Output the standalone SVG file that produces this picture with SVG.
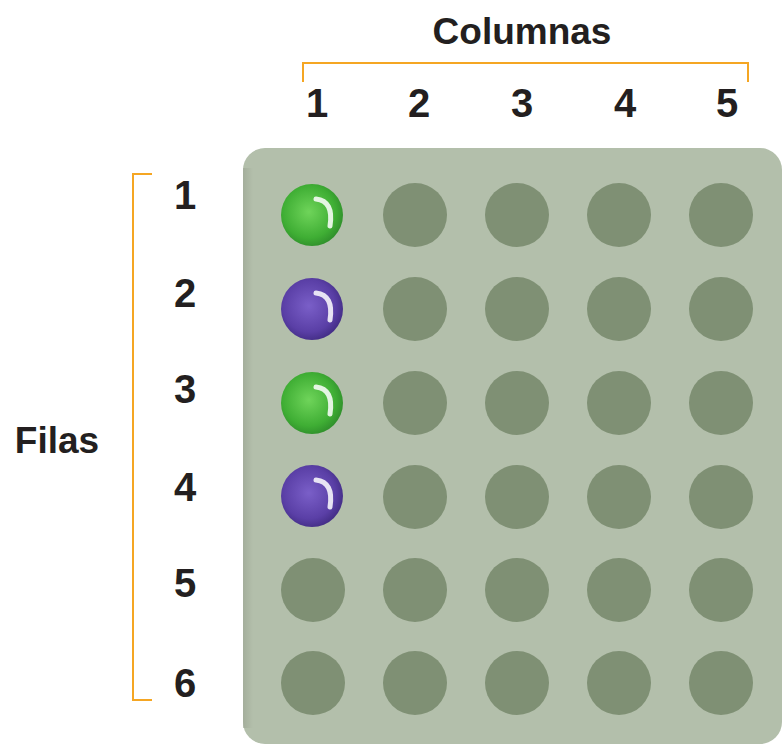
<svg xmlns="http://www.w3.org/2000/svg" width="782" height="744" viewBox="0 0 782 744">
<style>
.t{font-family:"Liberation Sans",Arial,sans-serif;font-weight:bold;fill:#231f20;text-anchor:middle}
.num{font-size:40px}
.ttl{font-size:37px}
.br{fill:none;stroke:#f5a623;stroke-width:2}
.hole{fill:#7f9074}
.hl{fill:none;stroke:#ffffff;stroke-width:5;stroke-linecap:round;opacity:0.85}
</style>
<defs>
<radialGradient id="gG" cx="0.45" cy="0.45" r="0.6">
<stop offset="0" stop-color="#6fd45a"/>
<stop offset="0.7" stop-color="#3fae34"/>
<stop offset="1" stop-color="#2d8a2a"/>
</radialGradient>
<radialGradient id="gP" cx="0.45" cy="0.45" r="0.6">
<stop offset="0" stop-color="#7a5fc8"/>
<stop offset="0.7" stop-color="#5a3fa6"/>
<stop offset="1" stop-color="#3f2a80"/>
</radialGradient>
<linearGradient id="edge" x1="0" y1="0" x2="1" y2="0">
<stop offset="0" stop-color="#9aa391"/>
<stop offset="1" stop-color="#b3bfab"/>
</linearGradient>
<g id="holeS"><circle class="hole" r="32"/></g>
</defs>
<rect width="782" height="744" fill="#ffffff"/>
<g id="board">
<rect x="243" y="148" width="539" height="596" rx="22" fill="#b3bfab"/>
<rect x="243" y="168" width="10" height="560" fill="url(#edge)" opacity="0.6"/>
</g>
<g id="headers">
<text class="t ttl" x="522" y="44">Columnas</text>
<text class="t ttl" x="57" y="453">Filas</text>
</g>
<g id="brackets">
<path class="br" d="M303,82 V63 H748 V82"/>
<path class="br" d="M152,174 H133 V700 H152"/>
</g>
<g id="col-labels">
<text class="t num" x="317" y="117">1</text>
<text class="t num" x="419" y="117">2</text>
<text class="t num" x="522" y="117">3</text>
<text class="t num" x="625" y="117">4</text>
<text class="t num" x="727" y="117">5</text>
</g>
<g id="row-labels">
<text class="t num" x="185" y="209">1</text>
<text class="t num" x="185" y="307">2</text>
<text class="t num" x="185" y="403">3</text>
<text class="t num" x="185" y="501">4</text>
<text class="t num" x="185" y="597">5</text>
<text class="t num" x="185" y="697">6</text>
</g>
<g id="holes">
<use href="#holeS" x="415" y="215"/><use href="#holeS" x="517" y="215"/><use href="#holeS" x="619" y="215"/><use href="#holeS" x="721" y="215"/>
<use href="#holeS" x="415" y="309"/><use href="#holeS" x="517" y="309"/><use href="#holeS" x="619" y="309"/><use href="#holeS" x="721" y="309"/>
<use href="#holeS" x="415" y="403"/><use href="#holeS" x="517" y="403"/><use href="#holeS" x="619" y="403"/><use href="#holeS" x="721" y="403"/>
<use href="#holeS" x="415" y="497"/><use href="#holeS" x="517" y="497"/><use href="#holeS" x="619" y="497"/><use href="#holeS" x="721" y="497"/>
<use href="#holeS" x="313" y="590"/><use href="#holeS" x="415" y="590"/><use href="#holeS" x="517" y="590"/><use href="#holeS" x="619" y="590"/><use href="#holeS" x="721" y="590"/>
<use href="#holeS" x="313" y="683"/><use href="#holeS" x="415" y="683"/><use href="#holeS" x="517" y="683"/><use href="#holeS" x="619" y="683"/><use href="#holeS" x="721" y="683"/>
</g>
<g id="ball-1-1"><circle cx="312" cy="215" r="31" fill="url(#gG)"/><path class="hl" d="M316,199 Q334,201 330,226"/></g>
<g id="ball-2-1"><circle cx="312" cy="309" r="31" fill="url(#gP)"/><path class="hl" d="M316,293 Q334,295 330,320"/></g>
<g id="ball-3-1"><circle cx="312" cy="403" r="31" fill="url(#gG)"/><path class="hl" d="M316,387 Q334,389 330,414"/></g>
<g id="ball-4-1"><circle cx="312" cy="496" r="31" fill="url(#gP)"/><path class="hl" d="M316,480 Q334,482 330,507"/></g>
</svg>
